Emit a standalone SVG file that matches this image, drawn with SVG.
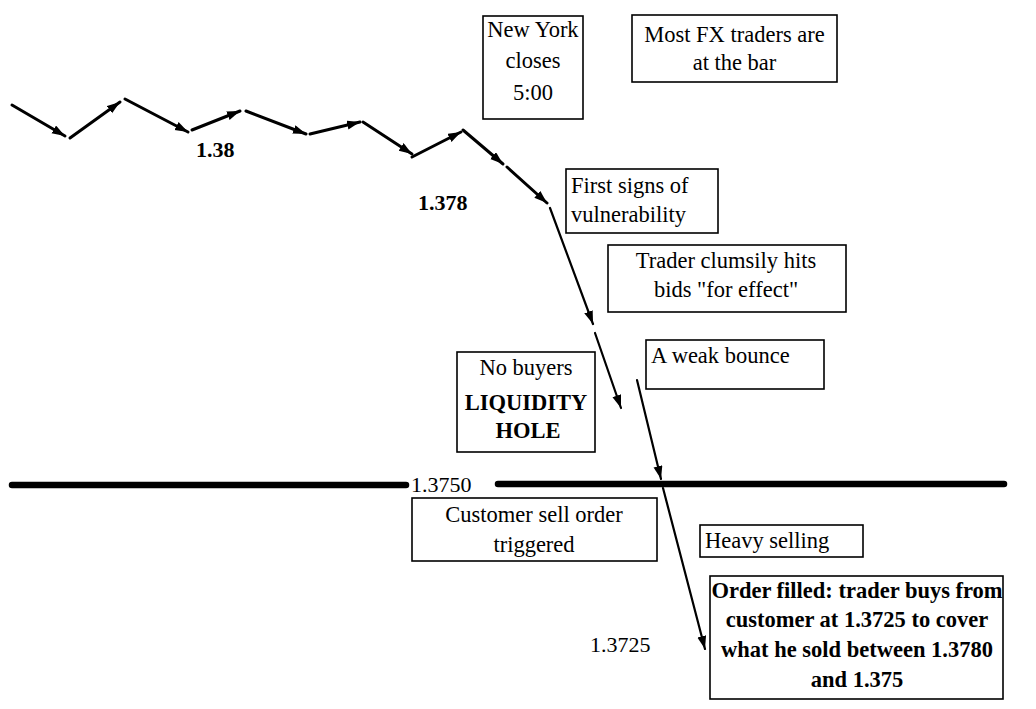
<svg xmlns="http://www.w3.org/2000/svg" width="1036" height="709" viewBox="0 0 1036 709">
<style>
text{font-family:"Liberation Serif","Times New Roman",serif;font-size:22.5px;fill:#000}
.b{font-weight:bold}
.c{text-anchor:middle}
.n{font-size:22px}
.box{fill:#fff;stroke:#000;stroke-width:1.6}
.zz{stroke:#000;stroke-width:3;fill:none;stroke-linecap:round}
.dn{stroke:#000;stroke-width:2.2;fill:none;stroke-linecap:round}
.lvl{stroke:#000;stroke-width:6.5;stroke-linecap:round}
</style>
<defs>
<marker id="ah" markerUnits="userSpaceOnUse" markerWidth="14" markerHeight="10" refX="13" refY="4.5" orient="auto">
<path d="M0,0 L13,4.5 L0,9 z" fill="#000"/>
</marker>
</defs>
<rect width="1036" height="709" fill="#fff"/>
<g id="connectors">
<line class="zz" x1="12" y1="105" x2="65" y2="136" marker-end="url(#ah)"/>
<line class="zz" x1="70" y1="138" x2="120" y2="102" marker-end="url(#ah)"/>
<line class="zz" x1="125" y1="99" x2="188" y2="132" marker-end="url(#ah)"/>
<line class="zz" x1="192" y1="130" x2="240" y2="111" marker-end="url(#ah)"/>
<line class="zz" x1="246" y1="111" x2="306" y2="134" marker-end="url(#ah)"/>
<line class="zz" x1="310" y1="134" x2="360" y2="122" marker-end="url(#ah)"/>
<line class="zz" x1="363" y1="122" x2="412" y2="154" marker-end="url(#ah)"/>
<line class="zz" x1="412" y1="157" x2="461" y2="132" marker-end="url(#ah)"/>
<line class="zz" x1="463" y1="130" x2="503" y2="164" marker-end="url(#ah)"/>
<line class="zz" x1="507" y1="167" x2="547" y2="203" marker-end="url(#ah)"/>
<line class="dn" x1="550" y1="208" x2="593" y2="324" marker-end="url(#ah)"/>
<line class="dn" x1="595" y1="333" x2="621" y2="408" marker-end="url(#ah)"/>
<line class="dn" x1="637" y1="380" x2="661" y2="479" marker-end="url(#ah)"/>
<line class="dn" x1="663" y1="488" x2="705" y2="649" marker-end="url(#ah)"/>
<line class="lvl" x1="12" y1="485" x2="406" y2="485"/>
<line class="lvl" x1="498" y1="484" x2="1004" y2="484"/>
</g>
<g id="label-138"><text class="b n" x="196" y="157">1.38</text></g>
<g id="label-1378"><text class="b n" x="418" y="210">1.378</text></g>
<g id="label-13750"><text class="n" x="411" y="492">1.3750</text></g>
<g id="label-13725"><text class="n" x="590" y="652">1.3725</text></g>
<g id="node-newyork">
<rect class="box" x="483" y="16" width="100" height="103"/>
<text class="c" x="533" y="37">New York</text>
<text class="c" x="533" y="68">closes</text>
<text class="c" x="533" y="100">5:00</text>
</g>
<g id="node-bar">
<rect class="box" x="632" y="15" width="205" height="67"/>
<text class="c" x="734.5" y="42">Most FX traders are</text>
<text class="c" x="734.5" y="70">at the bar</text>
</g>
<g id="node-firstsigns">
<rect class="box" x="566" y="169" width="152" height="64"/>
<text x="571" y="193">First signs of</text>
<text x="571" y="222">vulnerability</text>
</g>
<g id="node-clumsy">
<rect class="box" x="608" y="245" width="238" height="67"/>
<text class="c" x="726" y="268">Trader clumsily hits</text>
<text class="c" x="726" y="297">bids "for effect"</text>
</g>
<g id="node-nobuyers">
<rect class="box" x="457" y="352" width="138" height="100"/>
<text class="c" x="526" y="375">No buyers</text>
<text class="c b" x="526" y="410">LIQUIDITY</text>
<text class="c b" x="528" y="438">HOLE</text>
</g>
<g id="node-bounce">
<rect class="box" x="646" y="340" width="178" height="49"/>
<text x="651" y="363">A weak bounce</text>
</g>
<g id="node-customer">
<rect class="box" x="412" y="498" width="245" height="63"/>
<text class="c" x="534" y="522">Customer sell order</text>
<text class="c" x="534" y="552">triggered</text>
</g>
<g id="node-heavy">
<rect class="box" x="700" y="525" width="163" height="32"/>
<text x="705" y="548">Heavy selling</text>
</g>
<g id="node-filled">
<rect class="box" x="710" y="576" width="293" height="123"/>
<text class="c b" x="857" y="598">Order filled: trader buys from</text>
<text class="c b" x="857" y="627">customer at 1.3725 to cover</text>
<text class="c b" x="857" y="657">what he sold between 1.3780</text>
<text class="c b" x="857" y="687">and 1.375</text>
</g>
</svg>
